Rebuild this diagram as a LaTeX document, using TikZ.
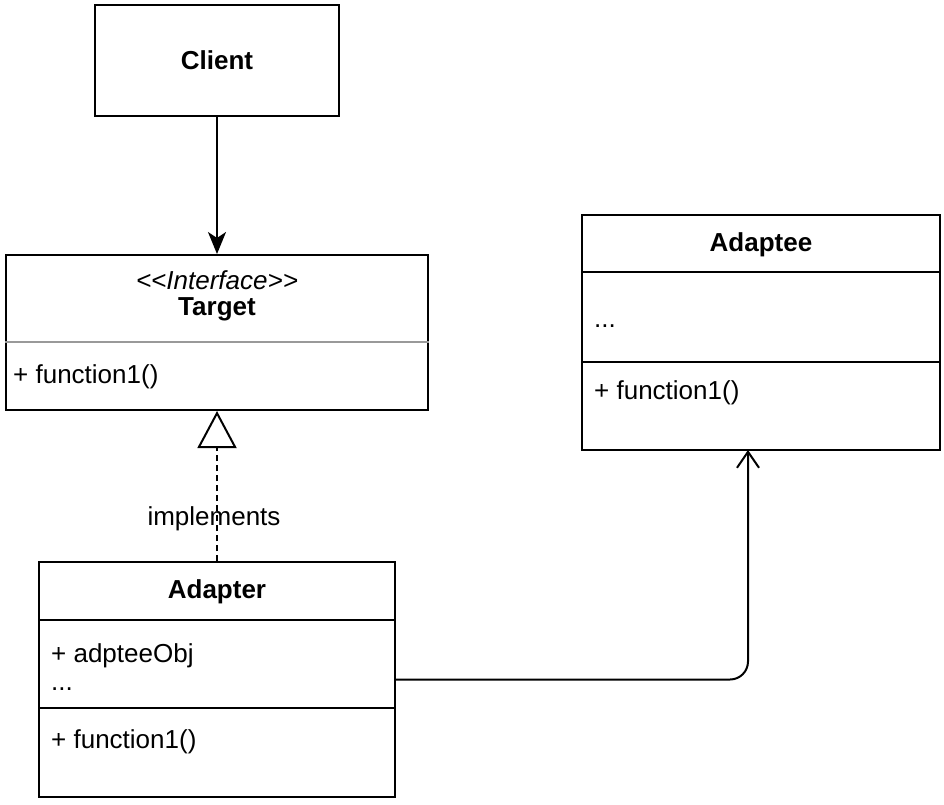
\documentclass[tikz,border=0pt]{standalone}
\usepackage{fontspec}
\setmainfont{Liberation Sans}
\newfontfamily\stfont{Liberation Sans}
\usetikzlibrary{arrows.meta}
\begin{document}
\begin{tikzpicture}[x=1pt,y=-1pt,
  box/.style={draw=black,line width=2pt,rectangle,inner sep=0pt},
  sep/.style={line width=2pt},
  txt/.style={inner sep=0pt,font=\fontsize{26}{30}\selectfont},
  btxt/.style={inner sep=0pt,font=\fontsize{26}{30}\selectfont\bfseries},
  lbl/.style={txt,anchor=west},
  conn/.style={line width=2pt}]
\useasboundingbox (0,0) rectangle (944,804);
% boxes
\node[box,minimum width=244pt,minimum height=111pt] (client) at (217,60.5) {};
\node[box,minimum width=422pt,minimum height=155pt] (target) at (217,332.5) {};
\node[box,minimum width=358pt,minimum height=235pt] (adaptee) at (761,332.5) {};
\node[box,minimum width=356pt,minimum height=235pt] (adapter) at (217,679.5) {};
% separators
\draw[line width=2pt,draw=black!40] (target.west |- 0,342) -- (target.east |- 0,342);
\draw[sep] (adaptee.west |- 0,272) -- (adaptee.east |- 0,272);
\draw[sep] (adaptee.west |- 0,362) -- (adaptee.east |- 0,362);
\draw[sep] (adapter.west |- 0,620) -- (adapter.east |- 0,620);
\draw[sep] (adapter.west |- 0,708) -- (adapter.east |- 0,708);
% texts
\node[btxt] (tclient) at (217,60) {Client};
\node[txt,font=\fontsize{26}{30}\stfont\itshape] (tstereo) at (217,280) {<<Interface>>};
\node[btxt] (ttarget) at (217,309) {Target};
\node[lbl] (tfun) at (13,377) {+ function1()};
\node[btxt] (tadaptee) at (761,245) {Adaptee};
\node[lbl] (tadots) at (594,326) {...};
\node[lbl] (tafun) at (594,393) {+ function1()};
\node[btxt] (tadapter) at (217,592) {Adapter};
\node[lbl] (tobj) at (51,656) {+ adpteeObj};
\node[lbl] (tddots) at (51,689) {...};
\node[lbl] (tdfun) at (51,742) {+ function1()};
% connectors
\draw[conn,-{Stealth[length=22pt,width=18pt,inset=6pt]}] (client.south) -- (target.north);
\draw[conn,dash pattern=on 6pt off 4pt,-{Triangle[open,length=37pt,width=39pt]}] (adapter.north) -- (target.south);
\node[txt] (impl) at (214,519) {implements};
\coordinate (adin) at (748,450);
\draw[conn,rounded corners=18pt,-{Straight Barb[length=16pt,width=22pt]}] (adapter.east) -| (adin);
\end{tikzpicture}
\end{document}
